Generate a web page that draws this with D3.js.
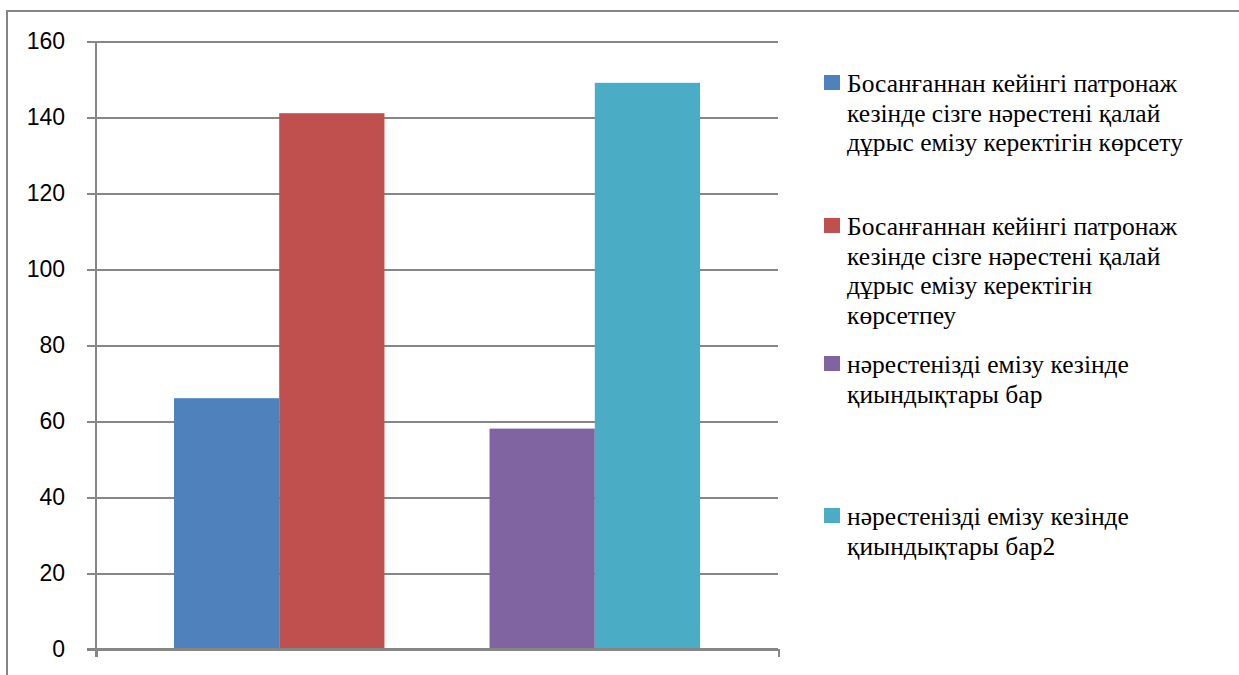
<!DOCTYPE html>
<html>
<head>
<meta charset="utf-8">
<script src="https://cdn.jsdelivr.net/npm/d3@7"></script>
<style>
  body { margin: 0; background: #fff; }
  .grid line { stroke: #868686; stroke-width: 2px; shape-rendering: crispEdges; }
  .grid path { display: none; }
  .axis path, .axis line { stroke: #868686; stroke-width: 2px; shape-rendering: crispEdges; }
  .axis text { font-family: "Liberation Sans", Arial, sans-serif; font-size: 23px; fill: #000; }
</style>
</head>
<body>
<div id="chart"></div>
<script>
// data
var seriesNames = [
  ["Босанғаннан кейінгі патронаж", "кезінде сізге нәрестені қалай", "дұрыс емізу керектігін көрсету"],
  ["Босанғаннан кейінгі патронаж", "кезінде сізге нәрестені қалай", "дұрыс емізу керектігін", "көрсетпеу"],
  ["нәрестенізді емізу кезінде", "қиындықтары бар"],
  ["нәрестенізді емізу кезінде", "қиындықтары бар2"]
];
var seriesValues = [66, 141, 58, 149];
var seriesGroup = [0, 0, 1, 1];
var seriesColors = ["#4f81bd", "#c0504d", "#8064a2", "#4bacc6"];
var yTicks = [0, 20, 40, 60, 80, 100, 120, 140, 160];

// layout
var plot = {left: 96, right: 778, top: 41, bottom: 649};
var legendX = 824, legendTextX = 847, lineStep = 29.5;
var legendBaselines = [92, 235, 373, 525];

var svg = d3.select("#chart").append("svg")
    .attr("width", 1239)
    .attr("height", 675);

// outer frame (runs off the right and bottom edge)
svg.append("rect")
    .attr("x", 7).attr("y", 11)
    .attr("width", 1300).attr("height", 700)
    .attr("fill", "none")
    .attr("stroke", "#868686")
    .attr("stroke-width", 2);

var y = d3.scaleLinear().domain([0, 160]).range([plot.bottom, plot.top]);

var x0 = d3.scaleBand()
    .domain([0, 1])
    .range([plot.left, plot.right])
    .paddingInner(0.333)
    .paddingOuter(0.247);

var x1 = d3.scaleBand()
    .domain([0, 1])
    .range([0, x0.bandwidth()]);

// gridlines
svg.append("g")
    .attr("class", "grid")
    .attr("transform", "translate(" + plot.left + ",0)")
    .call(d3.axisLeft(y).tickValues(yTicks).tickSize(-(plot.right - plot.left)).tickFormat(""));

// bars
var slot = [0, 1, 0, 1];
svg.append("g").selectAll("rect")
    .data(seriesValues)
  .enter().append("rect")
    .attr("x", function(d, i) { return x0(seriesGroup[i]) + x1(slot[i]); })
    .attr("width", x1.bandwidth())
    .attr("y", function(d) { return y(d); })
    .attr("height", function(d) { return plot.bottom - y(d); })
    .attr("fill", function(d, i) { return seriesColors[i]; });

// y axis
var yAxis = svg.append("g")
    .attr("class", "axis")
    .attr("transform", "translate(" + plot.left + ",0)")
    .call(d3.axisLeft(y).tickValues(yTicks).tickSize(9).tickSizeOuter(0).tickPadding(22));
yAxis.select(".domain").attr("d", "M0," + plot.top + "V" + (plot.bottom + 8));

// x axis: ticks at category boundaries
var xc = d3.scaleLinear().domain([0, 1]).range([plot.left, plot.right]);
svg.append("g")
    .attr("class", "axis")
    .attr("transform", "translate(0," + plot.bottom + ")")
    .call(d3.axisBottom(xc).tickValues([0, 1]).tickSize(8).tickSizeOuter(0).tickFormat(""));

// zero line across left tick
svg.append("line")
    .attr("x1", plot.left - 9).attr("x2", plot.right)
    .attr("y1", y(0)).attr("y2", y(0))
    .attr("stroke", "#868686").attr("stroke-width", 2)
    .style("shape-rendering", "crispEdges");

// legend
var legend = svg.append("g");
seriesNames.forEach(function(lines, i) {
  var b = legendBaselines[i];
  legend.append("rect")
      .attr("x", legendX).attr("y", b - 17)
      .attr("width", 16).attr("height", 15)
      .attr("fill", seriesColors[i]);
  lines.forEach(function(s, j) {
    legend.append("text")
        .attr("x", legendTextX)
        .attr("y", b + j * lineStep)
        .attr("font-family", "Liberation Serif")
        .attr("font-size", 25.5)
        .attr("fill", "#000")
        .text(s);
  });
});
</script>
</body>
</html>
